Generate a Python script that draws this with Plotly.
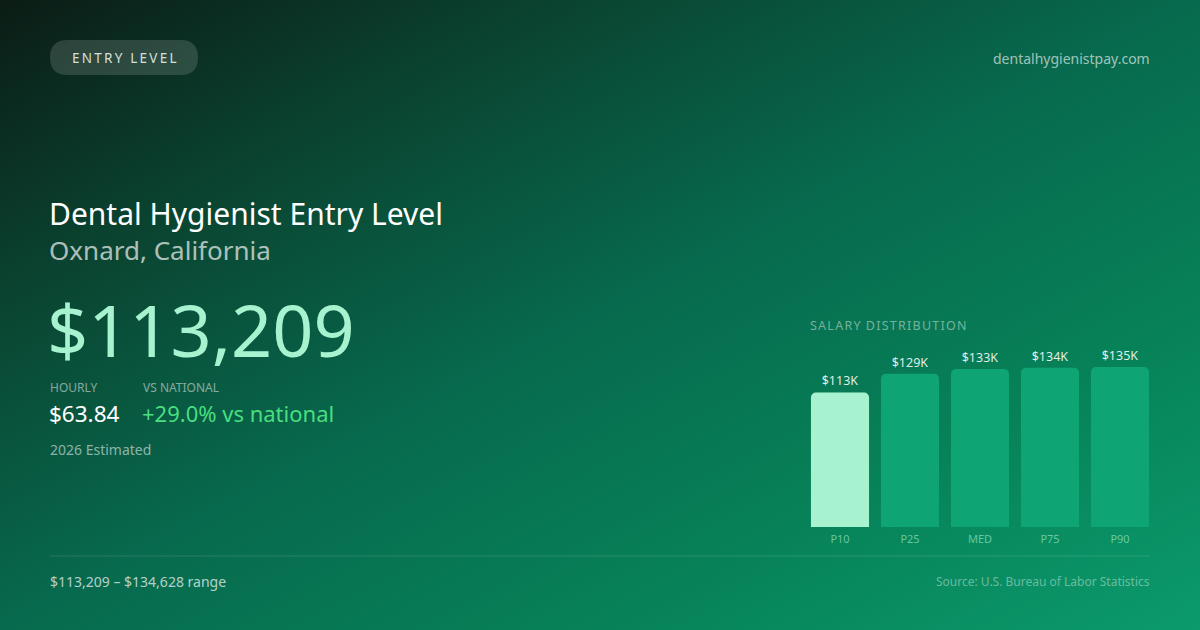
import base64
import plotly.graph_objects as go

W, H = 1200, 630

# dati
percentili = ["P10", "P25", "MED", "P75", "P90"]
salari = [113209, 129000, 133000, 134000, 134628]
colori_barre = ["#a7f3d0", "#0fa473", "#0fa473", "#0fa473", "#0fa473"]

livello = "ENTRY LEVEL"
sito = "dentalhygienistpay.com"
titolo = "Dental Hygienist Entry Level"
localita = "Oxnard, California"
salario_annuo = "$113,209"
orario = "$63.84"
vs_nazionale = "+29.0% vs national"
anno = "2026 Estimated"
intervallo = "$113,209 – $134,628 range"
fonte = "Source: U.S. Bureau of Labor Statistics"


def px(x):
    return x / W


def py(y):
    return 1 - y / H


# sfondo sfumato (svg inline)
svg = f"""<svg xmlns='http://www.w3.org/2000/svg' width='{W}' height='{H}'>
<defs><linearGradient id='g' x1='0' y1='0' x2='1' y2='1'>
<stop offset='0' stop-color='#0b1c15'/>
<stop offset='0.26' stop-color='#0a4733'/>
<stop offset='0.5' stop-color='#076a4e'/>
<stop offset='0.75' stop-color='#078258'/>
<stop offset='1' stop-color='#0b9a6c'/>
</linearGradient></defs>
<rect width='{W}' height='{H}' fill='url(#g)'/></svg>"""
bg_src = "data:image/svg+xml;base64," + base64.b64encode(svg.encode()).decode()

fig = go.Figure()

fig.add_trace(go.Bar(
    x=percentili, y=salari,
    marker=dict(color=colori_barre, line=dict(width=0)),
    text=[f"${v / 1000:.0f}K" for v in salari],
    textposition="outside",
    textfont=dict(color="rgba(255,255,255,0.88)", size=12.5, family="Noto Sans"),
    cliponaxis=False,
    hoverinfo="skip",
))


def pill_path(x0, y0, x1, y1, r):
    # rettangolo arrotondato in coordinate paper
    rx, ry = r / W, r / H
    a, b, c, d = px(x0), px(x1), py(y0), py(y1)
    return (f"M {a + rx} {c} L {b - rx} {c} Q {b} {c} {b} {c - ry} "
            f"L {b} {d + ry} Q {b} {d} {b - rx} {d} L {a + rx} {d} "
            f"Q {a} {d} {a} {d + ry} L {a} {c - ry} Q {a} {c} {a + rx} {c} Z")


shapes = [
    dict(type="path", xref="paper", yref="paper", path=pill_path(50, 40, 198, 75, 17.5),
         fillcolor="rgba(255,255,255,0.14)", line=dict(width=0), layer="below"),
    dict(type="line", xref="paper", yref="paper", x0=px(50), x1=px(1150), y0=py(556), y1=py(556),
         line=dict(color="rgba(255,255,255,0.13)", width=1)),
]

FONT = "Noto Sans"


def testo(x, y, s, size, color, anchor="left"):
    return dict(x=px(x), y=py(y), xref="paper", yref="paper", text=s, showarrow=False,
                xanchor=anchor, yanchor="middle",
                font=dict(family=FONT, size=size, color=color))


spaziato = "\u2009".join(livello)
annotations = [
    testo(124, 58, spaziato, 13.5, "rgba(230,245,238,0.9)", "center"),
    testo(1152, 58, sito, 14, "rgba(255,255,255,0.62)", "right"),
    testo(47, 213, titolo, 30, "#ffffff"),
    testo(47, 250, localita, 26, "rgba(255,255,255,0.68)"),
    testo(45, 329, salario_annuo, 72, "#a7f3d0"),
    testo(48, 387, "HOURLY", 12, "rgba(255,255,255,0.5)"),
    testo(141, 387, "VS NATIONAL", 12, "rgba(255,255,255,0.5)"),
    testo(47, 413, orario, 22.5, "#ffffff"),
    testo(140, 413, vs_nazionale, 22, "#4ade80"),
    testo(48, 449, anno, 14, "rgba(255,255,255,0.55)"),
    testo(808, 325, "S\u200aA\u200aL\u200aA\u200aR\u200aY\u2009 D\u200aI\u200aS\u200aT\u200aR\u200aI\u200aB\u200aU\u200aT\u200aI\u200aO\u200aN",
          12.5, "rgba(255,255,255,0.45)"),
    testo(48, 581, intervallo, 14, "rgba(255,255,255,0.7)"),
    testo(1152, 581, fonte, 12, "rgba(255,255,255,0.4)", "right"),
]

fig.update_layout(
    width=W, height=H,
    margin=dict(l=0, r=0, t=0, b=0),
    paper_bgcolor="#0a5a40",
    plot_bgcolor="rgba(0,0,0,0)",
    showlegend=False,
    bargap=0.17,
    barcornerradius=5,
    images=[dict(source=bg_src, xref="paper", yref="paper", x=0, y=1, sizex=1, sizey=1,
                 sizing="stretch", layer="below", xanchor="left", yanchor="top")],
    xaxis=dict(domain=[px(805), px(1155)], showgrid=False, zeroline=False, showline=False,
               ticks="", ticklabelstandoff=4,
               tickfont=dict(family=FONT, size=11, color="rgba(167,243,208,0.6)"),
               fixedrange=True),
    yaxis=dict(domain=[py(527), py(367)], range=[0, max(salari)], visible=False, fixedrange=True),
    shapes=shapes,
    annotations=annotations,
)

# niente margine della pagina attorno al grafico
fig.write_html("out.html", config={"displayModeBar": False},
               post_script="document.body.style.margin='0';document.body.style.overflow='hidden';")
